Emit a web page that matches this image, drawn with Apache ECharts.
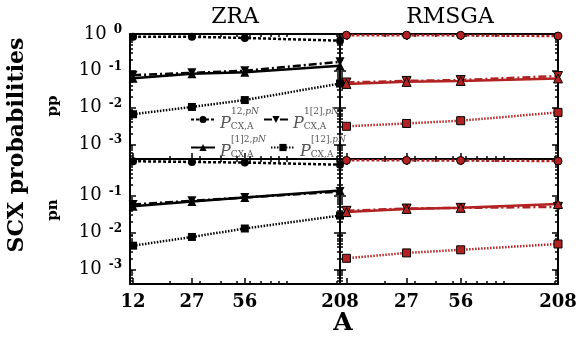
<!DOCTYPE html>
<html>
<head>
<meta charset="utf-8">
<script src="https://cdn.jsdelivr.net/npm/echarts@6/dist/echarts.min.js"></script>
<style>
  html, body { margin: 0; padding: 0; background: #fff; }
  #chart { width: 581px; height: 339px; }
</style>
</head>
<body>
<div id="chart"></div>
<script>
// mass numbers on the x axis
const nuclei = [12, 27, 56, 208];
const xTicksLeft = [12, 27, 56, 208];
const xTicksRight = [27, 56, 208];
const xMinorTicks = [20, 30, 40, 50, 60, 70, 80, 90, 100, 200];
const yTicksTop = [0.001, 0.01, 0.1, 1];
const yTicksBottom = [0.001, 0.01, 0.1];
const yMajorTicks = [0.001, 0.01, 0.1, 1];

// ZRA, pp
const zraPp12 = [0.84, 0.84, 0.78, 0.66];
const zraPp1b2 = [0.076, 0.088, 0.1, 0.175];
const zraPpB12 = [0.063, 0.083, 0.091, 0.137];
const zraPpBoth = [0.0066, 0.0104, 0.016, 0.045];
// RMSGA, pp
const rmsgaPp12 = [0.93, 0.93, 0.92, 0.88];
const rmsgaPp1b2 = [0.048, 0.053, 0.056, 0.072];
const rmsgaPpB12 = [0.044, 0.05, 0.053, 0.062];
const rmsgaPpBoth = [0.0031, 0.0037, 0.0044, 0.0074];
// ZRA, pn
const zraPn12 = [0.87, 0.83, 0.8, 0.7];
const zraPn1b2 = [0.058, 0.073, 0.09, 0.13];
const zraPnB12 = [0.052, 0.07, 0.09, 0.14];
const zraPnBoth = [0.0044, 0.0076, 0.0129, 0.029];
// RMSGA, pn
const rmsgaPn12 = [0.92, 0.92, 0.91, 0.88];
const rmsgaPn1b2 = [0.039, 0.045, 0.047, 0.05];
const rmsgaPnB12 = [0.036, 0.044, 0.047, 0.06];
const rmsgaPnBoth = [0.002, 0.0028, 0.0034, 0.0049];

const names = ['12', '1[2]', '[1]2', '[12]'];
const RED = '#b22222';

const styles = {
  '12':   { symbol: 'circle',   size: 8, rotate: 0,   dash: [3, 2] },
  '1[2]': { symbol: 'triangle', size: 9, rotate: 180, dash: [8, 3, 2, 3] },
  '[1]2': { symbol: 'triangle', size: 9, rotate: 0,   dash: 'solid' },
  '[12]': { symbol: 'rect',     size: 8, rotate: 0,   dash: [1.5, 1.5] }
};

const panels = [
  { color: '#000', vals: [zraPp12, zraPp1b2, zraPpB12, zraPpBoth] },
  { color: RED,    vals: [rmsgaPp12, rmsgaPp1b2, rmsgaPpB12, rmsgaPpBoth] },
  { color: '#000', vals: [zraPn12, zraPn1b2, zraPnB12, zraPnBoth] },
  { color: RED,    vals: [rmsgaPn12, rmsgaPn1b2, rmsgaPnB12, rmsgaPnBoth] }
];

const grids = [
  { left: 130, top: 34, width: 210, height: 125 },
  { left: 340, top: 34, width: 218, height: 125 },
  { left: 130, top: 159, width: 210, height: 125 },
  { left: 340, top: 159, width: 218, height: 125 }
];
const xMin = [11.5, 11, 11.5, 11];
const yMin = 4e-4;

const xAxes = [];
const yAxes = [];
const line = { show: true, lineStyle: { color: '#000', width: 2 } };

grids.forEach(function (g, i) {
  const bottomRow = i >= 2;
  const leftCol = i % 2 === 0;
  const xLabels = leftCol ? xTicksLeft : xTicksRight;
  // 0: bottom major, 1: top major, 2: bottom minor, 3: top minor
  [['bottom', xTicksLeft, 6, true], ['top', xTicksLeft, 6, false],
   ['bottom', xMinorTicks, 3, false], ['top', xMinorTicks, 3, false]].forEach(function (d, k) {
    xAxes.push({
      type: 'log', logBase: 10, gridIndex: i, position: d[0],
      min: xMin[i], max: 208,
      axisLine: k < 2 ? line : { show: false },
      splitLine: { show: false },
      axisTick: { show: true, inside: true, length: d[2], customValues: d[1],
                  lineStyle: { color: '#000', width: 1.5 } },
      axisLabel: {
        show: d[3] && bottomRow, customValues: xLabels, margin: 9,
        fontFamily: 'DejaVu Serif', fontWeight: 'bold', fontSize: 18, color: '#000'
      }
    });
  });
  const yMinor = [4e-4, 5e-4, 6e-4, 7e-4, 8e-4, 9e-4];
  yMajorTicks.forEach(function (t) {
    for (let m = 2; m <= 9; m++) { if (t * m < 1) yMinor.push(t * m); }
  });
  [['left', yMajorTicks, 6, true], ['right', yMajorTicks, 6, false],
   ['left', yMinor, 3, false], ['right', yMinor, 3, false]].forEach(function (d, k) {
    yAxes.push({
      type: 'log', logBase: 10, gridIndex: i, position: d[0],
      min: yMin, max: 1,
      axisLine: k < 2 ? line : { show: false },
      splitLine: { show: false },
      axisTick: { show: true, inside: true, length: d[2], customValues: d[1],
                  lineStyle: { color: '#000', width: 1.5 } },
      axisLabel: {
        show: d[3] && leftCol, customValues: bottomRow ? yTicksBottom : yTicksTop,
        margin: 8,
        formatter: function (v) {
          return '{b|10}{e|' + Math.round(Math.log10(v)) + '}';
        },
        rich: {
          b: { fontFamily: 'DejaVu Serif', fontSize: 18, color: '#000', lineHeight: 20 },
          e: { fontFamily: 'DejaVu Serif', fontWeight: 'bold', fontSize: 12, color: '#000',
               verticalAlign: 'top', padding: [0, 0, 6, 7], lineHeight: 20 }
        }
      }
    });
  });
});

const series = [];
panels.forEach(function (p, i) {
  names.forEach(function (n, j) {
    const s = styles[n];
    series.push({
      name: n, type: 'line', xAxisIndex: i * 4, yAxisIndex: i * 4,
      data: nuclei.map(function (a, k) { return [a, p.vals[j][k]]; }),
      symbol: s.symbol, symbolSize: s.size, symbolRotate: s.rotate,
      clip: false, animation: false,
      lineStyle: { color: p.color, width: 2.5, type: s.dash },
      itemStyle: { color: p.color, borderColor: '#000', borderWidth: p.color === '#000' ? 0 : 1 }
    });
  });
});

const supText = { '12': '12,', '1[2]': '1[2],', '[1]2': '[1]2,', '[12]': '[12],' };
const legendRich = {
  sp: { width: 11, lineHeight: 8 },
  sup: { fontFamily: 'DejaVu Serif', fontSize: 9, color: '#555', lineHeight: 8 },
  supi: { fontFamily: 'DejaVu Serif', fontStyle: 'italic', fontSize: 9, color: '#555', lineHeight: 8 },
  p: { fontFamily: 'DejaVu Serif', fontStyle: 'italic', fontSize: 16, color: '#555', lineHeight: 15 },
  sub: { fontFamily: 'DejaVu Serif', fontSize: 9, color: '#555', lineHeight: 15, verticalAlign: 'bottom' }
};
function legendRow(data, top) {
  return {
    data: data, left: 190, top: top, orient: 'horizontal', padding: 0,
    itemWidth: 24, itemHeight: 9, itemGap: 4,
    textStyle: { width: 44, rich: legendRich },
    formatter: function (n) {
      return '{sp|}{sup|' + supText[n] + '}{supi|pN}\n{p|P}{sub|CX,A}';
    }
  };
}

const textEl = function (text, x, y, size, weight, rot) {
  return {
    type: 'text', x: x, y: y, rotation: rot || 0,
    style: { text: text, fontFamily: 'DejaVu Serif', fontSize: size, fontWeight: weight,
             fill: '#000', align: 'center', verticalAlign: 'middle' }
  };
};

const chart = echarts.init(document.getElementById('chart'));
chart.setOption({
  animation: false,
  grid: grids,
  xAxis: xAxes,
  yAxis: yAxes,
  legend: [legendRow(['12', '1[2]'], 106), legendRow(['[1]2', '[12]'], 134)],
  series: series,
  graphic: [
    textEl('ZRA', 235, 17, 22, 'normal'),
    textEl('RMSGA', 450, 17, 22, 'normal'),
    textEl('SCX probabilities', 17, 145, 22, 'bold', Math.PI / 2),
    textEl('pp', 53, 106, 15, 'bold', Math.PI / 2),
    textEl('pn', 53, 210, 15, 'bold', Math.PI / 2),
    textEl('A', 343, 323, 25, 'bold')
  ]
});
</script>
</body>
</html>
